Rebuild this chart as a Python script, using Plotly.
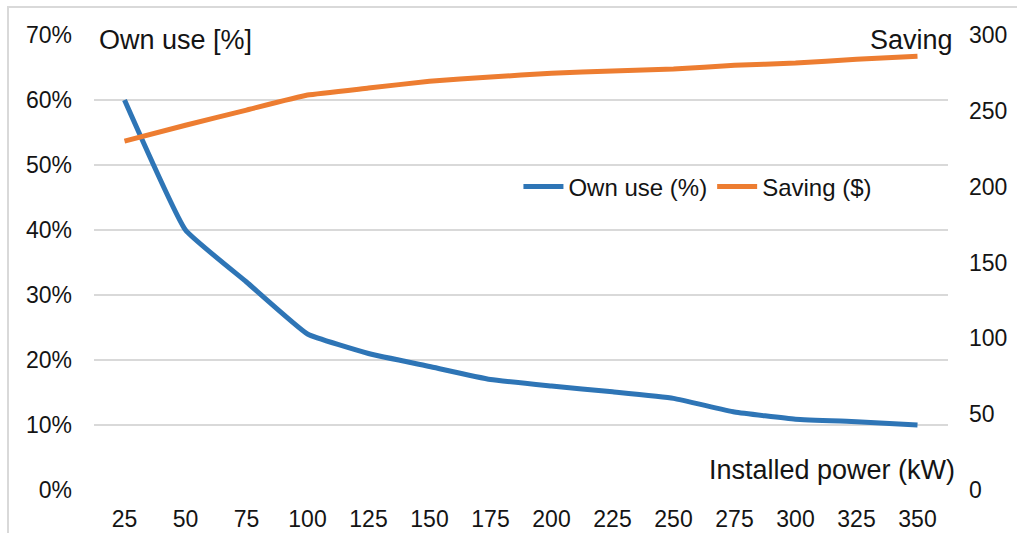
import plotly.graph_objects as go

power_kw = ["25", "50", "75", "100", "125", "150", "175", "200", "225", "250", "275", "300", "325", "350"]
own_use = [0.60, 0.40, 0.32, 0.24, 0.21, 0.19, 0.17, 0.16, 0.151, 0.141, 0.12, 0.109, 0.105, 0.10]
saving = [230, 240.5, 250.5, 260.4, 265, 269.5, 272.3, 274.8, 276.3, 277.6, 280, 281.5, 284, 286]

BLUE = "#2E75B6"
ORANGE = "#ED7D31"
FONT = "Liberation Sans, Arial, sans-serif"
TXT = "#141414"

fig = go.Figure()
fig.add_trace(go.Scatter(x=power_kw, y=own_use, name="Own use (%)", mode="lines",
                         line=dict(color=BLUE, width=5, shape="spline", smoothing=0.35), yaxis="y"))
fig.add_trace(go.Scatter(x=power_kw, y=saving, name="Saving ($)", mode="lines",
                         line=dict(color=ORANGE, width=5, shape="spline", smoothing=0.35), yaxis="y2"))

fig.update_layout(
    width=1017, height=533,
    margin=dict(l=94, r=69, t=35, b=43),
    paper_bgcolor="white", plot_bgcolor="white",
    font=dict(family=FONT, size=23, color=TXT),
    xaxis=dict(type="category", range=[-0.5, 13.5], showgrid=False, zeroline=False,
               showline=False, ticks="", ticklabelstandoff=13, tickfont=dict(size=23),
               automargin=False),
    yaxis=dict(range=[0, 0.7], dtick=0.1, tickformat=".0%", showgrid=True,
               gridcolor="#d9d9d9", gridwidth=1.5, zeroline=False, showline=False,
               ticks="", ticklabelstandoff=21, tickfont=dict(size=23), automargin=False),
    yaxis2=dict(range=[0, 300], dtick=50, overlaying="y", side="right", showgrid=False,
                zeroline=False, showline=False, ticks="", ticklabelstandoff=20,
                tickfont=dict(size=23), automargin=False),
    legend=dict(orientation="h", x=0.497, y=0.666, xanchor="left", yanchor="middle",
                bgcolor="rgba(0,0,0,0)", font=dict(size=24), itemwidth=40,
                tracegroupgap=0),
    showlegend=True,
    annotations=[
        dict(text="Own use [%]", xref="paper", yref="paper", x=0.003, y=0.989,
             xanchor="left", yanchor="middle", showarrow=False, font=dict(size=27)),
        dict(text="Saving", xref="paper", yref="paper", x=1.008, y=0.989,
             xanchor="right", yanchor="middle", showarrow=False, font=dict(size=27)),
        dict(text="Installed power (kW)", xref="paper", yref="paper", x=1.01, y=0.044,
             xanchor="right", yanchor="middle", showarrow=False, font=dict(size=27)),
    ],
    shapes=[
        dict(type="rect", xref="paper", yref="paper", x0=-0.1007, x1=1.2,
             y0=-0.3, y1=1.0615, line=dict(color="#d9d9d9", width=2),
             fillcolor="rgba(0,0,0,0)", layer="below"),
    ],
)

fig.write_html("out.html", config={"displayModeBar": False},
               post_script="document.body.style.margin='0';document.body.style.overflow='hidden';")
